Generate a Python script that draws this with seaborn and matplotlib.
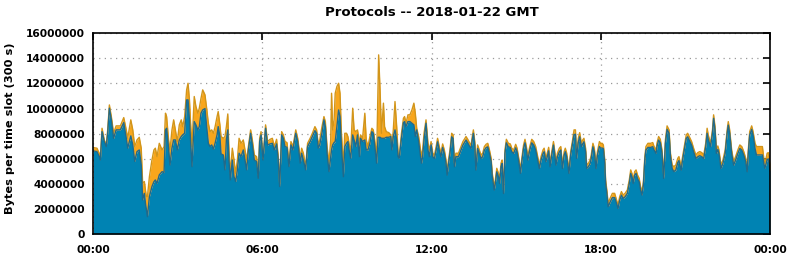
import numpy as np
import pandas as pd
import matplotlib
matplotlib.use("Agg")
import matplotlib.pyplot as plt
import seaborn as sns

# time of day (hours) of each sampled vertex
hours = [
    0.00, 0.13, 0.21, 0.25, 0.31, 0.39, 0.46, 0.51, 0.57, 0.64, 0.72, 0.81, 0.96, 1.08, 1.17, 1.22,
    1.33, 1.40, 1.47, 1.55, 1.63, 1.70, 1.75, 1.81, 1.85, 1.88, 1.92, 1.99, 2.08, 2.15, 2.20, 2.26,
    2.34, 2.44, 2.51, 2.56, 2.60, 2.67, 2.72, 2.79, 2.85, 2.91, 2.98, 3.05, 3.12, 3.17, 3.24, 3.31,
    3.36, 3.41, 3.45, 3.50, 3.58, 3.64, 3.71, 3.76, 3.82, 3.88, 3.96,
    4.02, 4.08, 4.14, 4.20, 4.26, 4.32, 4.39, 4.43, 4.49, 4.53, 4.61, 4.67, 4.72, 4.77, 4.81, 4.86,
    4.93, 4.99, 5.05, 5.11, 5.17, 5.24, 5.32, 5.38, 5.44, 5.50, 5.58, 5.64, 5.71, 5.79, 5.85, 5.90,
    5.95, 6.02, 6.11, 6.18, 6.27, 6.35, 6.42, 6.50, 6.56, 6.61, 6.68, 6.74, 6.80, 6.87, 6.94, 7.01,
    7.08, 7.18, 7.25, 7.34, 7.39, 7.45, 7.53, 7.60, 7.69, 7.77, 7.86, 7.92, 7.98,
    8.03, 8.11, 8.18, 8.23, 8.29, 8.36, 8.42, 8.45, 8.49, 8.54, 8.58, 8.64, 8.70, 8.75, 8.80, 8.87,
    8.92, 8.98, 9.03, 9.09, 9.13, 9.20, 9.25, 9.31, 9.37, 9.44, 9.48, 9.55, 9.63, 9.68, 9.74, 9.81,
    9.88, 9.93, 9.98, 10.05, 10.10, 10.12, 10.17, 10.22, 10.29, 10.33, 10.39, 10.48, 10.55, 10.59,
    10.64, 10.70, 10.76, 10.81, 10.85, 10.93, 11.00, 11.04, 11.09, 11.16, 11.23, 11.30, 11.37, 11.42,
    11.47, 11.54, 11.59, 11.64, 11.68, 11.73, 11.80, 11.87, 11.92, 11.98,
    12.04, 12.10, 12.16, 12.21, 12.27, 12.33, 12.39, 12.45, 12.51, 12.55, 12.59, 12.65, 12.71, 12.76,
    12.81, 12.86, 12.95, 13.04, 13.11, 13.16, 13.22, 13.28, 13.34, 13.40, 13.44, 13.48, 13.53, 13.57,
    13.63, 13.69, 13.75, 13.81, 13.87, 13.93, 13.99, 14.05, 14.11, 14.15, 14.22, 14.25, 14.31, 14.37,
    14.41, 14.46, 14.50, 14.55, 14.60, 14.65, 14.72, 14.79, 14.84, 14.91, 14.98, 15.03, 15.10, 15.15,
    15.19, 15.26, 15.31, 15.36, 15.41, 15.48, 15.55, 15.62, 15.69, 15.76, 15.82, 15.88, 15.95, 15.99,
    16.05, 16.10, 16.15, 16.20, 16.25, 16.32, 16.36, 16.41, 16.46, 16.53, 16.58, 16.64, 16.70, 16.74,
    16.79, 16.84, 16.87, 16.93, 16.99, 17.05, 17.10, 17.14, 17.20, 17.25, 17.31, 17.36, 17.40, 17.46,
    17.50, 17.56, 17.62, 17.66, 17.72, 17.77, 17.83, 17.88, 17.95, 17.99, 18.05, 18.09, 18.14, 18.17,
    18.22, 18.26, 18.33, 18.41, 18.49, 18.56, 18.61, 18.67, 18.73, 18.79, 18.86, 18.94, 19.01, 19.06,
    19.11, 19.15, 19.20, 19.25, 19.30, 19.36, 19.41, 19.46, 19.51, 19.56, 19.60, 19.67, 19.77, 19.84,
    19.89, 19.96,
    19.99, 20.05, 20.11, 20.17, 20.23, 20.29, 20.35, 20.42, 20.47, 20.53, 20.59, 20.66, 20.73, 20.77,
    20.85, 20.89, 20.96, 21.03, 21.08, 21.15, 21.22, 21.29, 21.37, 21.44, 21.51, 21.58, 21.65, 21.72,
    21.77, 21.81, 21.89, 21.96, 22.00, 22.05, 22.10, 22.15, 22.19, 22.26, 22.33, 22.41, 22.48, 22.52,
    22.57, 22.64, 22.71, 22.78, 22.86, 22.93, 23.00, 23.07, 23.14, 23.19, 23.23, 23.28, 23.35, 23.40,
    23.47, 23.52, 23.59, 23.66, 23.73, 23.78, 23.82, 23.90, 23.94, 24.00,
]

# main protocol (blue), millions of bytes per slot
blue_mb = [
    6.62, 6.57, 6.17, 5.90, 8.16, 7.37, 6.97, 8.03, 10.03, 9.10, 7.63, 8.30, 8.30, 8.88, 7.63, 6.84,
    7.82, 7.10, 5.78, 6.57, 6.70, 5.50, 2.71, 3.24, 2.45, 2.00, 1.38, 2.98, 3.78, 4.17, 4.31, 4.04,
    4.71, 4.97, 4.89, 8.30, 8.43, 6.84, 5.50, 6.84, 7.50, 7.50, 6.70, 7.50, 7.77, 7.90, 8.03, 10.69,
    10.69, 9.10, 7.50, 5.37, 8.96, 8.70, 8.30, 8.56, 9.63, 9.89, 10.00,
    8.56, 7.23, 6.97, 7.10, 6.76, 7.23, 7.90, 8.56, 7.77, 6.38, 6.30, 5.11, 7.50, 8.30, 5.90, 4.31,
    5.90, 4.57, 4.18, 5.11, 6.44, 6.17, 6.70, 5.90, 5.11, 6.70, 8.03, 7.10, 5.90, 5.77, 4.44, 7.37,
    7.90, 5.90, 8.43, 7.10, 7.18, 7.23, 6.70, 7.18, 5.90, 3.78, 7.90, 7.63, 6.97, 6.91, 5.37, 7.10,
    6.70, 8.03, 7.37, 5.64, 6.44, 5.90, 5.11, 6.97, 7.37, 7.77, 8.24, 8.03, 6.84,
    7.10, 8.03, 9.10, 8.56, 6.44, 4.97, 6.17, 6.70, 7.10, 7.29, 7.37, 8.56, 9.89, 9.36, 6.97, 4.57,
    6.97, 7.23, 7.37, 6.44, 6.04, 7.90, 7.50, 6.97, 7.90, 6.17, 7.63, 7.37, 7.50, 6.70, 6.70, 7.23,
    8.16, 8.03, 7.10, 5.64, 7.71, 7.71, 7.71, 7.63, 7.63, 7.63, 7.71, 7.71, 7.77, 6.70,
    7.77, 8.30, 7.50, 6.17, 6.04, 7.63, 8.88, 8.96, 8.56, 8.96, 8.96, 8.83, 8.70, 7.77,
    8.30, 7.37, 6.44, 5.64, 6.17, 7.50, 8.83, 6.70, 6.17, 7.10,
    6.16, 6.02, 6.69, 7.35, 6.69, 6.16, 6.90, 6.42, 5.62, 4.69, 5.49, 6.42, 7.75, 7.62,
    5.36, 6.16, 6.16, 6.69, 7.09, 7.27, 7.49, 7.27, 7.01, 6.82, 7.49, 8.02, 7.09, 5.09,
    6.82, 6.42, 6.02, 6.16, 6.69, 6.87, 6.95, 6.42, 5.76, 4.56, 3.50, 3.89, 4.96, 4.56,
    4.03, 5.36, 5.62, 3.23, 6.42, 7.27, 6.95, 6.90, 6.56, 6.42, 6.87, 6.56, 5.62, 4.83,
    5.62, 6.82, 7.27, 6.69, 5.89, 6.69, 7.27, 7.09, 6.69, 5.89, 5.22, 5.89, 6.42, 6.56,
    5.76, 6.16, 6.63, 5.36, 6.16, 7.09, 6.42, 5.49, 6.16, 6.56, 6.69, 5.22, 6.29, 6.56,
    6.16, 5.36, 4.83, 6.29, 7.09, 7.92, 7.95, 6.02, 7.30, 7.75, 6.95, 7.20, 7.35, 6.56,
    5.22, 5.36, 5.62, 6.02, 6.95, 6.56, 5.22, 6.29, 6.97, 6.85, 6.85, 6.80, 5.62, 4.03,
    3.10, 2.17, 2.55, 2.90, 2.90, 2.43, 2.03, 2.70, 3.10, 2.83, 2.96, 3.23, 4.03, 4.83,
    4.51, 4.03, 4.69, 4.83, 4.43, 4.16, 3.50, 3.10, 3.90, 5.89, 6.69, 6.90, 6.90, 6.96,
    6.69, 6.42,
    6.95, 7.49, 7.27, 6.42, 4.43, 7.22, 8.34, 8.02, 6.16, 5.22, 4.97, 5.10, 5.70, 5.85,
    5.09, 5.76, 6.69, 7.62, 7.75, 7.43, 7.09, 6.56, 6.02, 6.16, 6.24, 6.16, 6.02, 6.95,
    8.03, 7.55, 6.95, 8.02, 9.22, 8.28, 6.42, 6.74, 6.42, 5.22, 5.62, 6.42, 8.02, 8.68,
    8.02, 6.42, 5.49, 5.89, 6.42, 6.82, 6.69, 6.29, 5.76, 4.96, 6.42, 7.88, 8.34, 7.88,
    6.80, 6.30, 6.30, 6.30, 6.30, 5.64, 5.24, 5.94, 5.99, 5.00,
]

# other protocols (orange), stacked on top, millions of bytes per slot
other_mb = [
    0.27, 0.27, 0.27, 0.14, 0.27, 0.13, 0.13, 0.27, 0.26, 0.26, 0.40, 0.32, 0.32, 0.40, 0.67, 0.79,
    1.28, 1.20, 1.19, 0.93, 1.01, 1.34, 1.33, 0.94, 1.06, 1.00, 1.60, 1.59, 2.12, 2.53, 2.53, 2.13,
    2.52, 1.73, 2.08, 1.33, 0.93, 0.66, 1.20, 1.46, 1.60, 0.80, 0.67, 1.20, 1.33, 0.66, 1.33, 0.80,
    1.33, 1.59, 1.33, 1.60, 2.00, 1.46, 1.33, 1.47, 1.19, 1.60, 1.10,
    1.47, 1.60, 1.19, 1.20, 1.27, 1.33, 1.46, 1.20, 0.93, 1.39, 1.33, 2.66, 1.06, 1.27, 0.80, 0.53,
    0.94, 1.33, 0.66, 0.79, 1.19, 1.06, 0.80, 0.80, 0.79, 0.27, 0.27, 0.40, 0.40, 0.40, 0.27, 0.26,
    0.26, 0.14, 0.27, 0.27, 0.37, 0.40, 0.27, 0.37, 0.27, 0.26, 0.26, 0.27, 0.40, 0.38, 0.27, 0.27,
    0.27, 0.27, 0.26, 0.40, 0.40, 0.54, 0.26, 0.26, 0.26, 0.26, 0.32, 0.27, 0.26,
    0.40, 0.53, 0.26, 0.40, 0.53, 0.67, 1.33, 4.52, 1.20, 1.81, 3.85, 3.20, 2.13, 1.86, 1.06, 0.93,
    1.06, 0.80, 0.40, 0.53, 0.66, 2.13, 0.80, 1.19, 0.40, 1.06, 0.27, 0.26, 2.13, 0.80, 0.27, 0.54,
    0.27, 0.27, 0.40, 0.53, 4.31, 6.57, 3.78, 0.40, 2.80, 0.93, 0.45, 0.37, 0.13, 0.27,
    0.53, 2.26, 1.06, 0.27, 0.13, 0.40, 0.35, 0.40, 0.27, 0.54, 0.54, 1.06, 1.73, 1.86,
    0.13, 0.40, 0.53, 0.53, 0.53, 0.53, 0.27, 0.53, 0.53, 0.27,
    0.28, 0.28, 0.28, 0.28, 0.28, 0.28, 0.28, 0.28, 0.28, 0.28, 0.28, 0.28, 0.28, 0.28,
    0.28, 0.28, 0.28, 0.28, 0.28, 0.28, 0.28, 0.28, 0.28, 0.28, 0.28, 0.28, 0.28, 0.28,
    0.28, 0.28, 0.28, 0.28, 0.28, 0.28, 0.28, 0.28, 0.28, 0.28, 0.28, 0.28, 0.28, 0.28,
    0.28, 0.28, 0.28, 0.28, 0.28, 0.28, 0.28, 0.28, 0.28, 0.28, 0.28, 0.28, 0.28, 0.28,
    0.28, 0.28, 0.28, 0.28, 0.28, 0.28, 0.28, 0.28, 0.28, 0.28, 0.28, 0.28, 0.28, 0.28,
    0.28, 0.28, 0.28, 0.28, 0.28, 0.28, 0.28, 0.28, 0.28, 0.28, 0.28, 0.28, 0.28, 0.28,
    0.28, 0.28, 0.28, 0.28, 0.28, 0.38, 0.35, 0.28, 0.33, 0.33, 0.28, 0.30, 0.28, 0.28,
    0.28, 0.28, 0.28, 0.28, 0.28, 0.28, 0.28, 0.28, 0.40, 0.38, 0.38, 0.30, 0.28, 0.28,
    0.28, 0.28, 0.30, 0.34, 0.34, 0.28, 0.28, 0.28, 0.28, 0.28, 0.28, 0.28, 0.28, 0.28,
    0.28, 0.28, 0.28, 0.28, 0.28, 0.28, 0.28, 0.28, 0.28, 0.28, 0.28, 0.33, 0.33, 0.33,
    0.28, 0.28,
    0.28, 0.28, 0.28, 0.28, 0.28, 0.28, 0.28, 0.28, 0.28, 0.28, 0.40, 0.40, 0.34, 0.32,
    0.28, 0.28, 0.28, 0.28, 0.28, 0.28, 0.28, 0.28, 0.28, 0.33, 0.33, 0.33, 0.28, 0.28,
    0.40, 0.35, 0.28, 0.28, 0.28, 0.28, 0.28, 0.28, 0.28, 0.28, 0.28, 0.28, 0.28, 0.28,
    0.28, 0.28, 0.28, 0.28, 0.28, 0.28, 0.28, 0.28, 0.28, 0.28, 0.28, 0.28, 0.28, 0.28,
    0.43, 0.67, 0.67, 0.67, 0.67, 0.40, 0.40, 0.50, 0.50, 0.60,
]

xtick_pos = [0, 6, 12, 18, 24]
xtick_labels = ["00:00", "06:00", "12:00", "18:00", "00:00"]
ytick_vals = [0, 2000000, 4000000, 6000000, 8000000, 10000000, 12000000, 14000000, 16000000]

title = "Protocols -- 2018-01-22 GMT"
ylabel = "Bytes per time slot (300 s)"

BLUE = "#0083b3"
BLUE_EDGE = "#21698a"
ORANGE = "#f8a61c"
ORANGE_EDGE = "#d2951a"

sns.set_style("white")
plt.rcParams["font.family"] = ["DejaVu Sans"]
plt.rcParams["text.color"] = "black"
plt.rcParams["xtick.color"] = "black"
plt.rcParams["ytick.color"] = "black"
plt.rcParams["axes.labelcolor"] = "black"

df = pd.DataFrame({
    "hour": hours,
    "blue": np.array(blue_mb) * 1e6,
    "other": np.array(other_mb) * 1e6,
})
df["total"] = df["blue"] + df["other"]

fig = plt.figure(figsize=(7.92, 2.59), dpi=100)
ax = fig.add_axes([93.3 / 792, 1 - 234 / 259, (770 - 93.3) / 792, (234 - 33.3) / 259])

ax.fill_between(df["hour"], 0, df["blue"], color=BLUE, lw=0, zorder=2)
ax.fill_between(df["hour"], df["blue"], df["total"], color=ORANGE, lw=0, zorder=2)
sns.lineplot(data=df, x="hour", y="total", color=ORANGE_EDGE, lw=1.0, ax=ax, zorder=3)
sns.lineplot(data=df, x="hour", y="blue", color=BLUE_EDGE, lw=1.0, ax=ax, zorder=3)

ax.set_xlim(0, 24)
ax.set_ylim(0, 16000000)
ax.set_xticks(xtick_pos)
ax.set_xticklabels(xtick_labels)
ax.set_yticks(ytick_vals)
ax.set_yticklabels([str(v) for v in ytick_vals])
ax.set_xlabel("")
ax.set_ylabel("")

ax.set_axisbelow(True)
ax.grid(True, color="#9a9a9a", lw=0.9, ls=(0, (1, 3.5)))

for s in ax.spines.values():
    s.set_color("black")
    s.set_linewidth(1.2)
    s.set_visible(True)
    s.set_zorder(5)

ax.tick_params(axis="both", direction="in", length=5, width=1.2, top=True, right=True,
               labelsize=7.7, colors="black", labelcolor="black")
ax.tick_params(axis="y", pad=6)
ax.tick_params(axis="x", pad=8)
for lab in ax.get_xticklabels() + ax.get_yticklabels():
    lab.set_fontweight("bold")
    lab.set_color("black")

ax.set_title(title, fontsize=9.5, fontweight="bold", pad=12.5, color="black")
fig.text(10.5 / 792, 1 - 128 / 259, ylabel, rotation=90, ha="center", va="center",
         fontsize=8.2, fontweight="bold", color="black")

fig.savefig("out.png", dpi=100)
